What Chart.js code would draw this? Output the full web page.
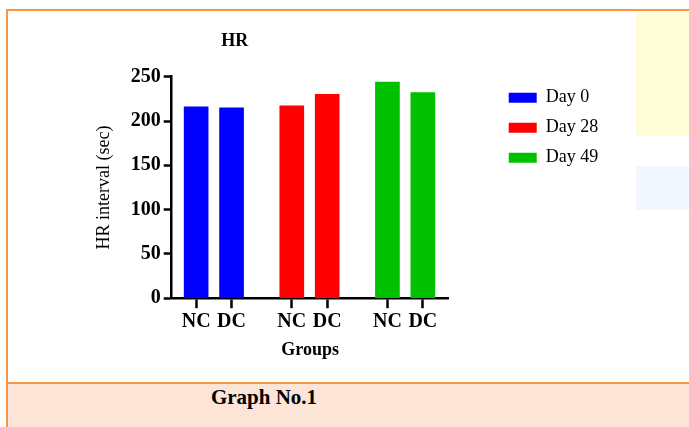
<!DOCTYPE html>
<html>
<head>
<meta charset="utf-8">
<script src="https://cdn.jsdelivr.net/npm/chart.js@4.4.1/dist/chart.umd.min.js"></script>
<style>
    html, body { margin: 0; padding: 0; background: #fff; }
    body { width: 689px; height: 427px; position: relative; overflow: hidden; font-family: "Liberation Serif", "Times New Roman", serif; }
    .wm-yellow { position: absolute; left: 636px; top: 12px; width: 53px; height: 124px; background: #fffcd8; }
    .wm-blue   { position: absolute; left: 636px; top: 166px; width: 53px; height: 44px; background: #f3f7ff; }
    .frame     { position: absolute; left: 6px; top: 9px; width: 700px; height: 430px; border-top: 2px solid #f79646; border-left: 2px solid #f79646; }
    .footer    { position: absolute; left: 8px; top: 382px; width: 690px; height: 50px; background: #fce4d6; border-top: 2px solid #f79646; }
    .footer span { position: absolute; left: 156px; top: 0; width: 200px; text-align: center; font-weight: bold; font-size: 21px; line-height: 26px; color: #000; }
    #wrap { position: absolute; left: 0; top: 0; width: 689px; height: 383px; z-index: 2; }
</style>
</head>
<body>
<div class="wm-yellow"></div>
<div class="wm-blue"></div>
<div class="frame"></div>
<div class="footer"><span>Graph No.1</span></div>
<div id="wrap"><canvas id="chart-hr"></canvas></div>
<script>
const chartTitle  = 'HR';
const groupLabels = ['NC', 'DC'];
const dayNames    = ['Day 0', 'Day 28', 'Day 49'];
const day0        = [216, 215];
const day28       = [217, 230];
const day49       = [244, 232];
const dayColors   = ['#0000ff', '#ff0000', '#00c000'];
const yTicks      = [0, 50, 100, 150, 200, 250];

const dayValues   = [day0, day28, day49];
const groupStride = 2.7;   // gap between the day clusters, in bar slots
const serif       = '"Liberation Serif", "Times New Roman", serif';

// one tick per bar, labelled NC / DC
const tickPositions = [];
const tickLabels    = [];
dayValues.forEach((vals, g) => vals.forEach((_, m) => {
    tickPositions.push(g * groupStride + m);
    tickLabels.push(groupLabels[m]);
}));

const datasets = dayNames.map((name, g) => ({
    label:           name,
    data:            dayValues[g].map((v, m) => ({ x: g * groupStride + m, y: v })),
    backgroundColor: dayColors[g],
    borderColor:     dayColors[g],
    borderWidth:     0,
    barThickness:    24,
    grouped:         false,
}));

// title sits left of the plot centre in the original figure
const titlePlugin = {
    id: 'hrTitle',
    afterDraw(chart) {
        const { ctx, chartArea } = chart;
        ctx.save();
        ctx.font         = `bold 18px ${serif}`;
        ctx.fillStyle    = '#000';
        ctx.textAlign    = 'center';
        ctx.textBaseline = 'middle';
        ctx.fillText(chartTitle, chartArea.left + 63, 41);
        ctx.restore();
    },
};

new Chart(document.getElementById('chart-hr'), {
    type: 'bar',
    data: { datasets },
    plugins: [titlePlugin],
    options: {
        responsive:          true,
        maintainAspectRatio: false,
        animation:           false,
        layout: { padding: { left: 93.2, top: 76.7, right: 80.8, bottom: 22.2 } },
        plugins: {
            title:   { display: false },
            tooltip: { enabled: false },
            legend: {
                position: 'right',
                align:    'start',
                maxWidth: 200,
                labels: {
                    boxWidth:  28,
                    boxHeight: 10,
                    padding:   12,
                    color:     '#000',
                    font:      { family: serif, size: 18 },
                },
            },
        },
        scales: {
            x: {
                type:   'linear',
                bounds: 'data',
                offset: false,
                min:    -0.69,
                max:    7.13,
                afterBuildTicks: s => { s.ticks = tickPositions.map(v => ({ value: v })); },
                ticks: {
                    callback:    (v, i) => tickLabels[i],
                    autoSkip:    false,
                    maxRotation: 0,
                    padding:     2,
                    color:       '#000',
                    font:        { family: serif, size: 20, weight: 'bold' },
                },
                grid:   { display: true, offset: false, drawOnChartArea: false, tickLength: 10, tickWidth: 2.5, tickColor: '#000' },
                border: { color: '#000', width: 2.5 },
                title: {
                    display: true,
                    text:    'Groups',
                    color:   '#000',
                    padding: { top: 3, bottom: 0 },
                    font:    { family: serif, size: 18, weight: 'bold' },
                },
            },
            y: {
                min: yTicks[0],
                max: yTicks[yTicks.length - 1],
                afterFit: s => { s.width = 78.5; },
                ticks: {
                    stepSize: yTicks[1] - yTicks[0],
                    padding:  3,
                    color:    '#000',
                    font:     { family: serif, size: 20, weight: 'bold' },
                },
                grid:   { drawOnChartArea: false, tickLength: 8, tickWidth: 2.5, tickColor: '#000' },
                border: { color: '#000', width: 2.5 },
                title: {
                    display: true,
                    text:    'HR interval (sec)',
                    color:   '#000',
                    padding: 0,
                    font:    { family: serif, size: 18 },
                },
            },
            // empty spacer between plot and legend
            gap: {
                type:     'linear',
                position: 'right',
                afterFit: s => { s.width = 48; },
                ticks:    { display: false },
                grid:     { display: false },
                border:   { display: false },
            },
        },
    },
});
</script>
</body>
</html>
